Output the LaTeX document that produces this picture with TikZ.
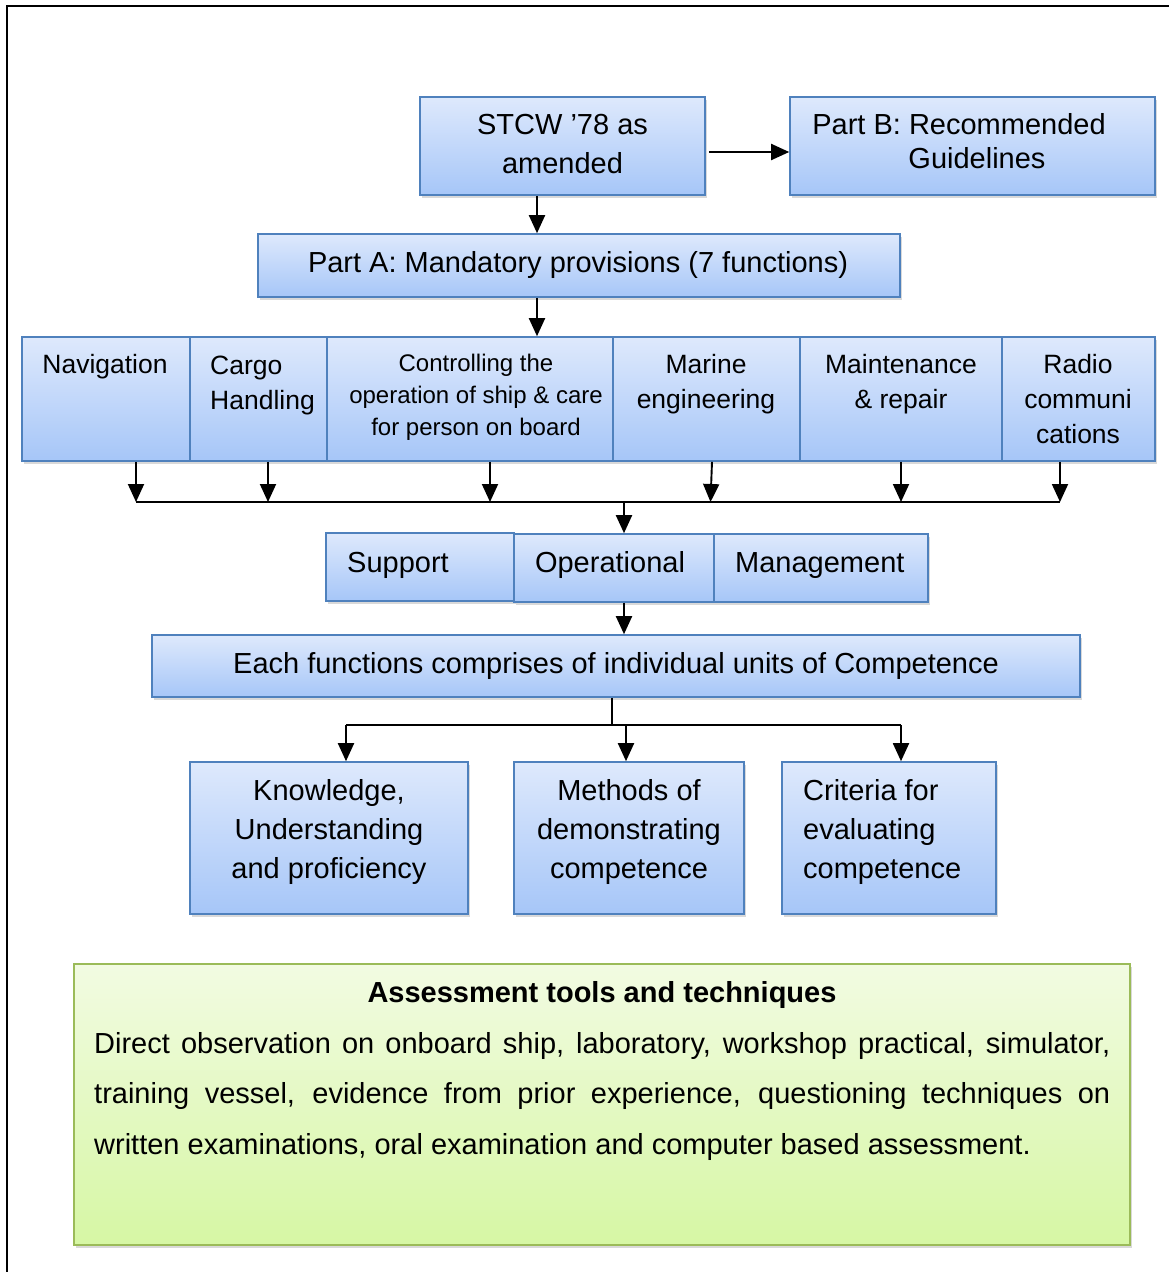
\documentclass[tikz,border=0pt]{standalone}
\usepackage{fontspec}
\setmainfont{Liberation Sans}
\usetikzlibrary{arrows.meta,shadows,calc}
\definecolor{bline}{RGB}{79,129,189}
\definecolor{btop}{RGB}{222,233,252}
\definecolor{bbot}{RGB}{166,198,248}
\definecolor{gline}{RGB}{155,187,89}
\definecolor{gtop}{RGB}{242,251,226}
\definecolor{gbot}{RGB}{214,247,164}
\begin{document}
\begin{tikzpicture}[x=1pt,y=-1pt,
  bx/.style={rectangle, draw=bline, line width=1.6pt, top color=btop, bottom color=bbot, inner sep=0pt,
    drop shadow={shadow xshift=2pt, shadow yshift=-3pt, opacity=0.3}},
  gbx/.style={rectangle, draw=gline, line width=1.8pt, top color=gtop, bottom color=gbot, inner sep=0pt,
    drop shadow={shadow xshift=2pt, shadow yshift=-3pt, opacity=0.3}},
  txt/.style={inner sep=0pt, anchor=base, align=center, font=\fontsize{29}{39}\selectfont},
  txtf/.style={txt, font=\fontsize{26.5}{35}\selectfont},
  arr/.style={-{Triangle[length=18pt,width=16pt]}, line width=1.9pt},
  ln/.style={line width=1.9pt}]
\useasboundingbox (0,0) rectangle (1174,1272);
% outer frame
\draw[line width=2.5pt] (7,1272) -- (7,6) -- (1169,6);

% top boxes (multi-line text nodes: base anchor = last line baseline)
\node[bx, minimum width=285pt, minimum height=98pt] (stcw) at (562.5,146) {};
\node[txt] (stcwT) at (562.5,173) {STCW ’78 as\\amended};
\node[bx, minimum width=365pt, minimum height=98pt] (partb) at (972.5,146) {};
\node[txt, font=\fontsize{29}{34}\selectfont] (partbT) at (977,168) {Part B: Recommended\hspace*{36pt}\\Guidelines};
\node[bx, minimum width=642pt, minimum height=63pt] (parta) at (579,265.5) {};
\node[txt] (partaT) at (578,272) {Part A: Mandatory provisions (7 functions)};

% function row
\node[bx, minimum width=168pt, minimum height=124pt] (nav) at (106,399) {};
\node[bx, minimum width=137pt, minimum height=124pt] (cargo) at (258.5,399) {};
\node[bx, minimum width=286pt, minimum height=124pt] (ctrl) at (470,399) {};
\node[bx, minimum width=187pt, minimum height=124pt] (marine) at (706.5,399) {};
\node[bx, minimum width=202pt, minimum height=124pt] (maint) at (901,399) {};
\node[bx, minimum width=153pt, minimum height=124pt] (radio) at (1078.5,399) {};
\node[txtf] (navT) at (105,373) {Navigation};
\node[txtf, anchor=base west, align=left] (cargoT) at (210,409) {Cargo\\Handling};
\node[txt, font=\fontsize{24}{32}\selectfont] (ctrlT) at (476,435) {Controlling the\\operation of ship \& care\\for person on board};
\node[txtf] (marineT) at (706,408) {Marine\\engineering};
\node[txtf] (maintT) at (901,408) {Maintenance\\\& repair};
\node[txtf] (radioT) at (1078,443) {Radio\\communi\\cations};

% levels row
\node[bx, minimum width=188pt, minimum height=68pt] (support) at (420,567) {};
\node[bx, minimum width=200pt, minimum height=68pt] (oper) at (614,568) {};
\node[bx, minimum width=214pt, minimum height=68pt] (mgmt) at (821,568) {};
\node[txt, anchor=base west] (supportT) at (347,572) {Support};
\node[txt] (operT) at (610,572) {Operational};
\node[txt, anchor=base west] (mgmtT) at (735,572) {Management};

% each function
\node[bx, minimum width=928pt, minimum height=62pt] (each) at (616,666) {};
\node[txt] (eachT) at (616,673) {Each functions comprises of individual units of Competence};

% three boxes
\node[bx, minimum width=278pt, minimum height=152pt] (know) at (329,838) {};
\node[bx, minimum width=230pt, minimum height=152pt] (meth) at (629,838) {};
\node[bx, minimum width=214pt, minimum height=152pt] (crit) at (889,838) {};
\node[txt] (knowT) at (329,878) {Knowledge,\\Understanding\\and proficiency};
\node[txt] (methT) at (629,878) {Methods of\\demonstrating\\competence};
\node[txt, anchor=base west, align=left] (critT) at (803,878) {Criteria for\\evaluating\\competence};

% assessment box
\node[gbx, minimum width=1056pt, minimum height=281pt] (assess) at (602,1104.5) {};
\node[txt, font=\fontsize{29}{39}\selectfont\bfseries] (assessT) at (602,1002) {Assessment tools and techniques};
\node[inner sep=0pt, anchor=base west, align=left, font=\fontsize{29}{50.5}\selectfont] (assessB) at (94,1154)
 {\makebox[1016pt][s]{Direct observation on onboard ship, laboratory, workshop practical, simulator,}\\
  \makebox[1016pt][s]{training vessel, evidence from prior experience, questioning techniques on}\\
  written examinations, oral examination and computer based assessment.};

% connectors
\draw[arr] ([yshift=-6pt,xshift=3pt]stcw.east) -- ([yshift=-6pt]partb.west);
\draw[arr] ([xshift=-25.5pt]stcw.south) -- ([xshift=-25.5pt]stcw.south |- parta.north);
\draw[arr] ([xshift=-42pt]parta.south) -- ([xshift=-42pt]parta.south |- ctrl.north);

\coordinate (busL) at (136,502);
\coordinate (busR) at (1060,502);
\coordinate (busM) at (624,502);
\draw[ln] (busL) -- (busR);
\draw[arr] ([xshift=30pt]nav.south) -- ([xshift=30pt]nav.south |- busL);
\draw[arr] ([xshift=9.5pt]cargo.south) -- ([xshift=9.5pt]cargo.south |- busL);
\draw[arr] ([xshift=20pt]ctrl.south) -- ([xshift=20pt]ctrl.south |- busL);
\draw[arr] ([xshift=5.5pt]marine.south) -- ([xshift=4pt]marine.south |- busL);
\draw[arr] (maint.south) -- (maint.south |- busL);
\draw[arr] ([xshift=-18.5pt]radio.south) -- ([xshift=-18.5pt]radio.south |- busL);
\draw[arr] (busM) -- (busM |- oper.north);
\draw[arr] (busM |- oper.south) -- (busM |- each.north);

\coordinate (splitL) at (346,725);
\coordinate (splitM) at (626,725);
\coordinate (splitR) at (901,725);
\draw[line width=1.2pt] ([xshift=-4pt]each.south) -- ([xshift=-4pt]each.south |- splitL);
\draw[ln] (splitL) -- (splitR);
\draw[arr] (splitL) -- (splitL |- know.north);
\draw[arr] (splitM) -- (splitM |- meth.north);
\draw[arr] (splitR) -- (splitR |- crit.north);
\end{tikzpicture}
\end{document}
